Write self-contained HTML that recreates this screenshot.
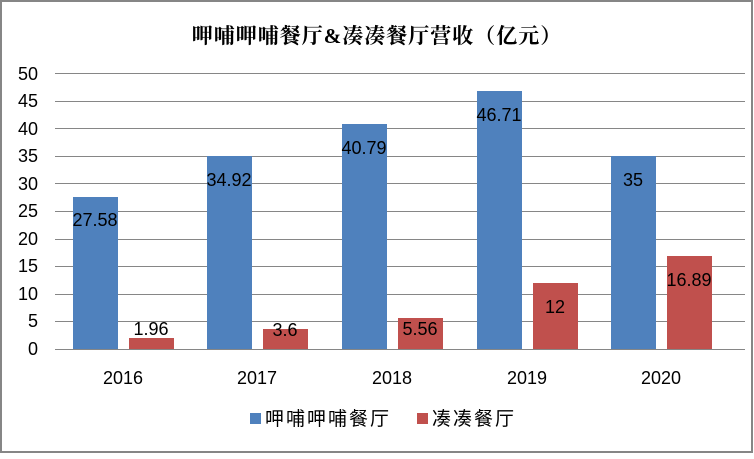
<!DOCTYPE html>
<html><head><meta charset="utf-8"><style>
body{margin:0;background:#fff}
</style></head><body>
<svg width="754" height="454" xmlns="http://www.w3.org/2000/svg" font-family="'Liberation Sans','Noto Sans CJK SC',sans-serif">
<rect x="1" y="1" width="751" height="451" fill="#fff" stroke="#868686" stroke-width="2"/>
<text x="377" y="43" text-anchor="middle" font-size="21" font-weight="bold" letter-spacing="1" font-family="'Liberation Serif','Noto Serif CJK SC',serif">呷哺呷哺餐厅&amp;凑凑餐厅营收（亿元）</text>
<g stroke="#868686" stroke-width="1">
<line x1="55" y1="73.5" x2="745" y2="73.5"/><line x1="55" y1="101.5" x2="745" y2="101.5"/>
<line x1="55" y1="128.5" x2="745" y2="128.5"/><line x1="55" y1="156.5" x2="745" y2="156.5"/>
<line x1="55" y1="183.5" x2="745" y2="183.5"/><line x1="55" y1="211.5" x2="745" y2="211.5"/>
<line x1="55" y1="239.5" x2="745" y2="239.5"/><line x1="55" y1="266.5" x2="745" y2="266.5"/>
<line x1="55" y1="294.5" x2="745" y2="294.5"/><line x1="55" y1="321.5" x2="745" y2="321.5"/>
<line x1="55" y1="349.5" x2="745" y2="349.5"/>
</g>
<g font-size="18" text-anchor="end" fill="#000">
<text x="38" y="80">50</text><text x="38" y="107">45</text><text x="38" y="135">40</text><text x="38" y="162">35</text><text x="38" y="190">30</text><text x="38" y="217">25</text><text x="38" y="245">20</text><text x="38" y="272">15</text><text x="38" y="300">10</text><text x="38" y="327">5</text><text x="38" y="355">0</text>
</g>
<g fill="#4f81bd">
<rect x="73" y="197" width="45" height="152"/>
<rect x="207" y="156" width="45" height="193"/>
<rect x="342" y="124" width="45" height="225"/>
<rect x="477" y="91" width="45" height="258"/>
<rect x="611" y="156" width="45" height="193"/>
</g>
<g fill="#c0504d">
<rect x="129" y="338" width="45" height="11"/>
<rect x="263" y="329" width="45" height="20"/>
<rect x="398" y="318" width="45" height="31"/>
<rect x="533" y="283" width="45" height="66"/>
<rect x="667" y="256" width="45" height="93"/>
</g>
<g font-size="18" text-anchor="middle" fill="#000">
<text x="95" y="226">27.58</text><text x="229" y="186">34.92</text><text x="364" y="154">40.79</text><text x="499" y="121">46.71</text><text x="633" y="186">35</text>
<text x="151" y="335">1.96</text><text x="285" y="336">3.6</text><text x="420" y="335">5.56</text><text x="555" y="313">12</text><text x="689" y="286">16.89</text>
<text x="123" y="384">2016</text><text x="257" y="384">2017</text><text x="392" y="384">2018</text><text x="527" y="384">2019</text><text x="661" y="384">2020</text>
</g>
<rect x="250" y="413" width="11" height="11" fill="#4f81bd"/>
<text x="265" y="425" font-size="19" letter-spacing="2">呷哺呷哺餐厅</text>
<rect x="417" y="413" width="11" height="11" fill="#c0504d"/>
<text x="432" y="425" font-size="19" letter-spacing="2">凑凑餐厅</text>
</svg>
</body></html>
